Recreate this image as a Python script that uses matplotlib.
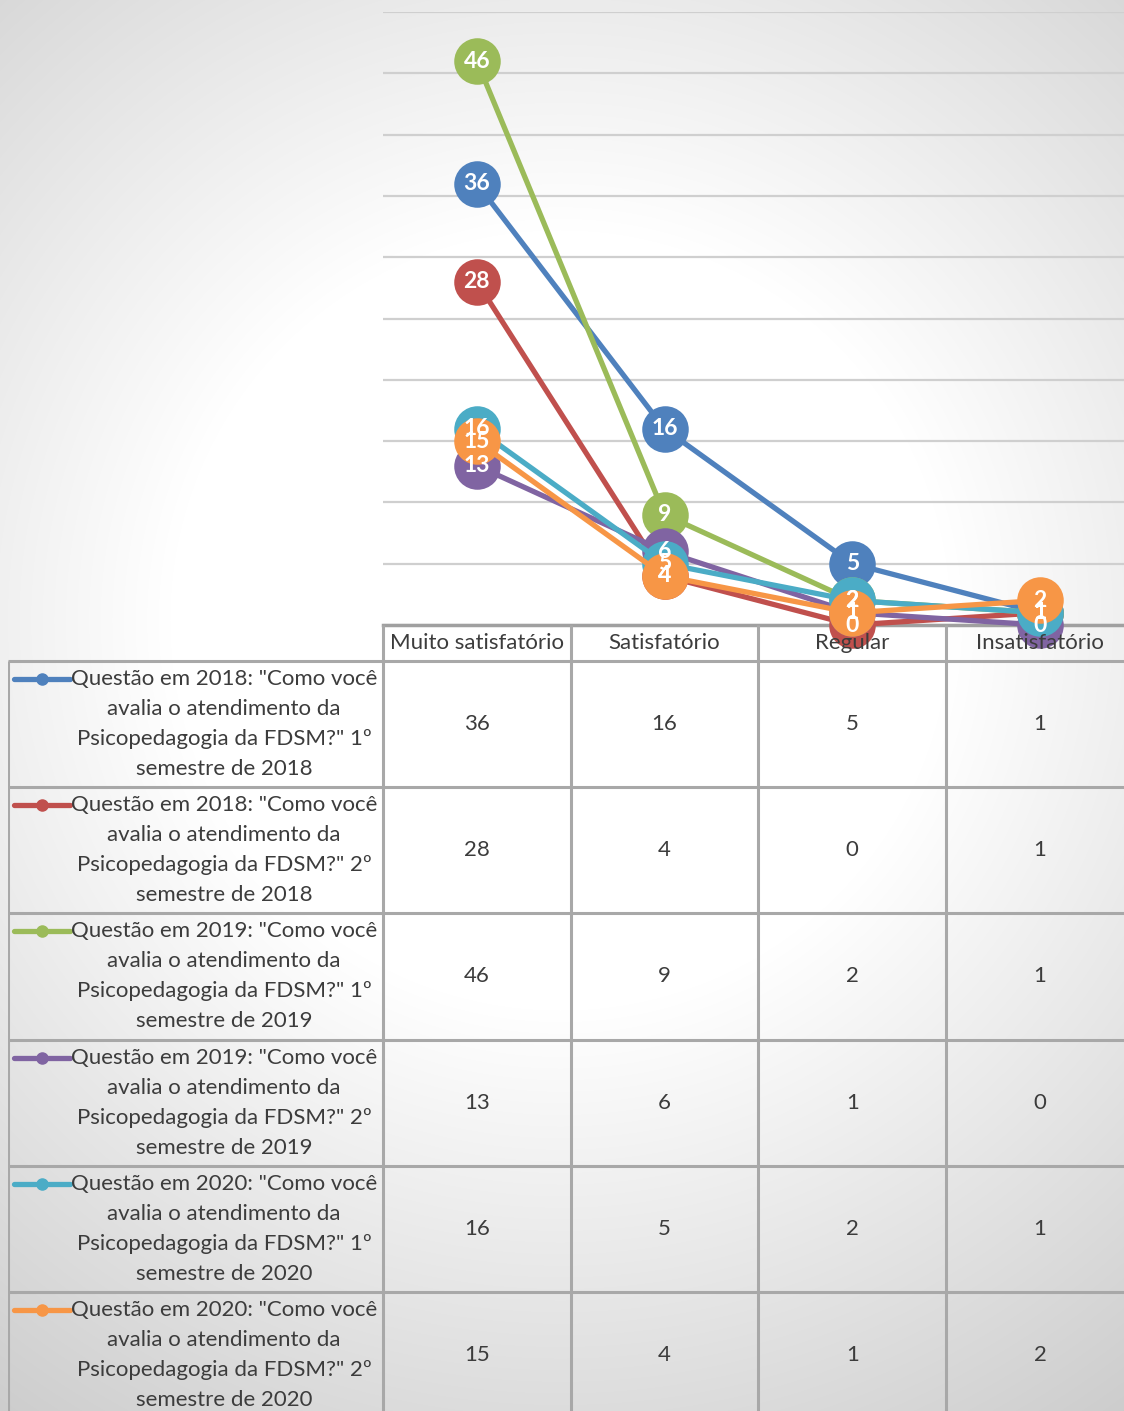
import numpy as np
import matplotlib.pyplot as plt

plt.rcParams['font.family'] = ['Lato', 'DejaVu Sans']

# data
categories = ['Muito satisfatório', 'Satisfatório', 'Regular', 'Insatisfatório']
series_names = [
    'Questão em 2018: "Como você\navalia o atendimento da\nPsicopedagogia da FDSM?" 1º\nsemestre de 2018',
    'Questão em 2018: "Como você\navalia o atendimento da\nPsicopedagogia da FDSM?" 2º\nsemestre de 2018',
    'Questão em 2019: "Como você\navalia o atendimento da\nPsicopedagogia da FDSM?" 1º\nsemestre de 2019',
    'Questão em 2019: "Como você\navalia o atendimento da\nPsicopedagogia da FDSM?" 2º\nsemestre de 2019',
    'Questão em 2020: "Como você\navalia o atendimento da\nPsicopedagogia da FDSM?" 1º\nsemestre de 2020',
    'Questão em 2020: "Como você\navalia o atendimento da\nPsicopedagogia da FDSM?" 2º\nsemestre de 2020',
]
s2018_1 = [36, 16, 5, 1]
s2018_2 = [28, 4, 0, 1]
s2019_1 = [46, 9, 2, 1]
s2019_2 = [13, 6, 1, 0]
s2020_1 = [16, 5, 2, 1]
s2020_2 = [15, 4, 1, 2]
series_values = [s2018_1, s2018_2, s2019_1, s2019_2, s2020_1, s2020_2]
colors = ['#4F81BD', '#C0504D', '#9BBB59', '#8064A2', '#4BACC6', '#F79646']

W, H = 1124, 1411
fig = plt.figure(figsize=(W / 100, H / 100), dpi=100)

# background radial gradient
bg = fig.add_axes([0, 0, 1, 1], zorder=-10)
yy, xx = np.mgrid[0:H, 0:W]
r = np.sqrt((xx - 560.0) ** 2 + (yy - 620.0) ** 2)
shade = np.clip(255 - (r - 390) * 0.0862, 200, 255) / 255.0
bg.imshow(np.dstack([shade] * 3), aspect='auto', extent=[0, W, H, 0])
bg.axis('off')

# chart axes (right edge runs past the picture, like the reference crop)
col_w = 187.7
ax_left, ax_top, ax_bot = 383, 12, 625
ax_right = ax_left + 4 * col_w
ax = fig.add_axes([ax_left / W, 1 - ax_bot / H, (ax_right - ax_left) / W, (ax_bot - ax_top) / H])
ax.patch.set_alpha(0)
ax.set_xlim(-0.5, 3.5)
ax.set_ylim(0, 50)
ax.set_yticks(np.arange(0, 51, 5))
ax.yaxis.grid(True, color='#cfcfcf', linewidth=1.6)
ax.set_axisbelow(True)
ax.tick_params(left=False, bottom=False, labelleft=False, labelbottom=False)
for side in ['left', 'right', 'top']:
    ax.spines[side].set_visible(False)
ax.spines['bottom'].set_color('#a0a0a0')
ax.spines['bottom'].set_linewidth(2.5)

x = np.arange(len(categories))
for i, (vals, c) in enumerate(zip(series_values, colors)):
    ax.plot(x, vals, color=c, linewidth=3.8, marker='o', markersize=33.5,
            markeredgewidth=0, zorder=3 + i, clip_on=False)
for i, vals in enumerate(series_values):
    for xi, v in zip(x, vals):
        ax.text(xi, v, str(v), color='white', fontsize=16.5, fontweight='bold',
                ha='center', va='center', zorder=20, clip_on=False)

# data table
tb_left, tb_top = 8, 625
hdr_h = 36
row_h = 126.2
tab = fig.add_axes([tb_left / W, 0, (ax_right - tb_left) / W, (H - tb_top) / H])
tab.patch.set_alpha(0)
tab.axis('off')
n_left = (ax_left - tb_left) / col_w
tab.set_xlim(-0.5 - n_left, 3.5)
hdr = hdr_h / row_h
tab.set_ylim(-(H - tb_top - hdr_h) / row_h, hdr)
grid_c = '#a8a8a8'
lw = 2.2
n_rows = len(series_values)
fs = 16

# header cells
for k in range(len(categories) + 1):
    tab.plot([k - 0.5, k - 0.5], [hdr, 0], color=grid_c, lw=lw, solid_capstyle='butt')
for k, name in enumerate(categories):
    tab.text(k, hdr / 2, name, ha='center', va='center', fontsize=fs, color='#3c3c3c')

# row lines
for rr in range(n_rows + 1):
    tab.plot([-0.5 - n_left, 3.5], [-rr, -rr], color=grid_c, lw=lw, solid_capstyle='butt')
for k in range(len(categories) + 1):
    tab.plot([k - 0.5, k - 0.5], [0, -n_rows], color=grid_c, lw=lw, solid_capstyle='butt')
tab.plot([-0.5 - n_left] * 2, [0, -n_rows], color=grid_c, lw=lw, solid_capstyle='butt')

line_gap = 30 / row_h
first = 18 / row_h
text_x = -0.5 - n_left + (224 - tb_left) / col_w
key_x0 = -0.5 - n_left + (14 - tb_left) / col_w
key_x1 = -0.5 - n_left + (70 - tb_left) / col_w
for rr, (name, vals, c) in enumerate(zip(series_names, series_values, colors)):
    top = -rr
    for j, ln in enumerate(name.split('\n')):
        tab.text(text_x, top - first - j * line_gap, ln, ha='center', va='center',
                 fontsize=fs, color='#3c3c3c')
    ky = top - first
    tab.plot([key_x0, key_x1], [ky, ky], color=c, lw=3.8, solid_capstyle='round')
    tab.plot([(key_x0 + key_x1) / 2], [ky], 'o', color=c, markersize=8)
    for k, v in enumerate(vals):
        tab.text(k, top - 0.5, str(v), ha='center', va='center', fontsize=fs, color='#3c3c3c')

fig.savefig('out.png', dpi=100)
